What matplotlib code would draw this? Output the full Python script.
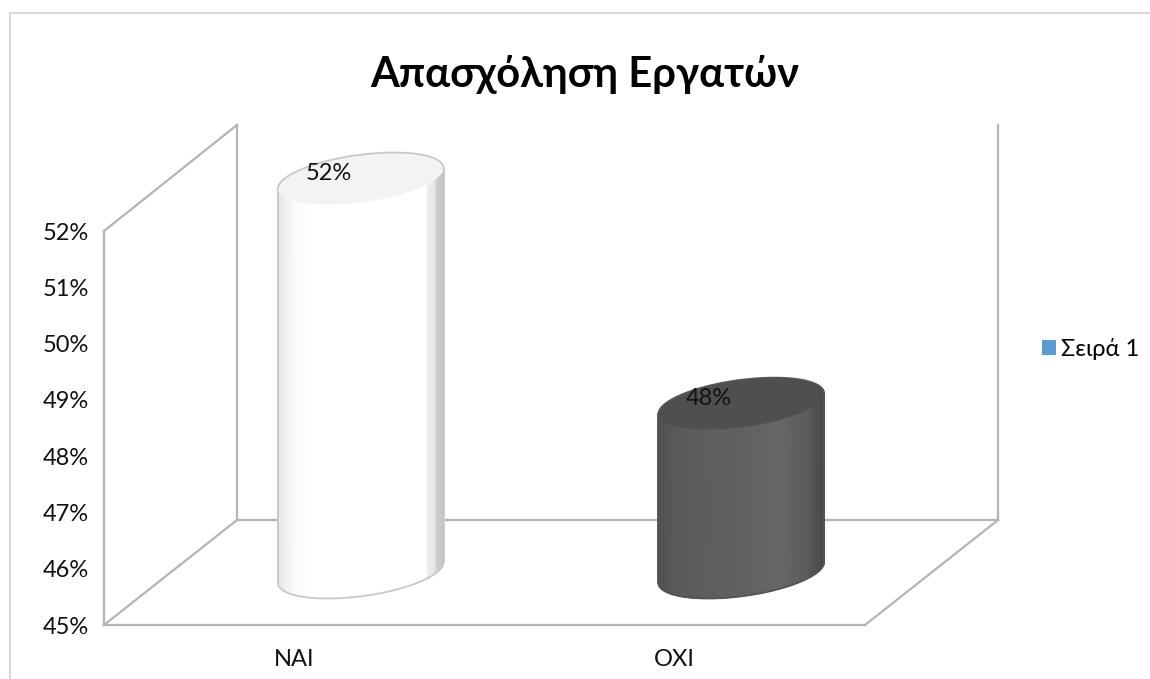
import numpy as np
import matplotlib
matplotlib.use("Agg")
import matplotlib.pyplot as plt
from matplotlib.colors import LinearSegmentedColormap
from matplotlib.patches import Patch, Polygon, Rectangle

categories = ["ΝΑΙ", "ΟΧΙ"]
values = [52, 48]
value_ticks = [45, 46, 47, 48, 49, 50, 51, 52]
title = "Απασχόληση Εργατών"
series_name = "Σειρά 1"

plt.rcParams["font.family"] = ["Lato", "Noto Sans", "DejaVu Sans"]

W, H = 1150, 679
fig = plt.figure(figsize=(W / 100, H / 100), dpi=100)
fig.add_artist(Rectangle((10 / W, -0.01), 1.2, (H - 13) / H + 0.01, transform=fig.transFigure,
                         fill=False, ec="#d9d9d9", lw=1.5))

# axes = front plane of the 3d box
left, right, top, bottom = 104, 865, 231, 625
ax = fig.add_axes([left / W, 1 - bottom / H, (right - left) / W, (bottom - top) / H])
ax.patch.set_alpha(0)
for s in ax.spines.values():
    s.set_visible(False)
xlim = (-0.5, 1.5)
ylim = (45, 52)

# depth of the box in data units
px_x = (xlim[1] - xlim[0]) / (right - left)
px_y = (ylim[1] - ylim[0]) / (bottom - top)
dx = 133 * px_x
dy = 105 * px_y
top_back = ylim[1] + dy + 1 * px_y

wall = "#b4b4b4"
def line(xs, ys):
    ax.plot(xs, ys, color=wall, lw=1.6, clip_on=False, zorder=1, solid_capstyle="projecting")

x0, x1 = xlim
y0, y1 = ylim
line([x0, x0], [y0, y1])
line([x0, x0 + dx], [y1, top_back])
line([x0 + dx, x0 + dx], [y0 + dy, top_back])
line([x0, x0 + dx], [y0, y0 + dy])
line([x0, x1], [y0, y0])
line([x1, x1 + dx], [y0, y0 + dy])
line([x0 + dx, x1 + dx], [y0 + dy, y0 + dy])
line([x1 + dx, x1 + dx], [y0 + dy, top_back])


def ellipse(cx, cy, t):
    # circle lying on the floor of the box, seen in projection
    return (cx + 76 * px_x * np.cos(t) + 33 * px_x * np.sin(t),
            cy + 26 * px_y * np.sin(t))


def cylinder(cat, val, stops, lid, edge):
    cx = cat + dx / 2
    base = y0 + dy / 2
    roof = val + dy / 2
    # t where the ellipse has its left extreme
    t_l = np.pi + np.arctan2(33, 76)
    # lower half of the ellipse, left extreme to right extreme
    tt = np.linspace(t_l, t_l + np.pi, 160)
    lx, ly = ellipse(cx, 0, tt)
    X = np.vstack([lx, lx])
    Y = np.vstack([ly + base, ly + roof])
    C = (X - lx.min()) / (lx.max() - lx.min())
    cmap = LinearSegmentedColormap.from_list("c", stops, N=512)
    ax.pcolormesh(X, Y, C, cmap=cmap, shading="gouraud", vmin=0, vmax=1, zorder=2, clip_on=False)
    ax.plot(lx, ly + base, color=edge, lw=1.3, zorder=3, clip_on=False)
    ax.plot([lx[0], lx[0]], [ly[0] + base, ly[0] + roof], color=edge, lw=1.3, zorder=3, clip_on=False)
    ax.plot([lx[-1], lx[-1]], [ly[-1] + base, ly[-1] + roof], color=edge, lw=1.3, zorder=3, clip_on=False)
    # lid, only its far half has an outline
    t = np.linspace(0, 2 * np.pi, 241)
    ex, ey = ellipse(cx, 0, t)
    ax.add_patch(Polygon(np.c_[ex, ey + roof], closed=True, fc=lid, ec="none", zorder=4, clip_on=False))
    ux, uy = ellipse(cx, 0, tt + np.pi)
    ax.plot(ux, uy + roof, color=edge, lw=1.3, zorder=4, clip_on=False)


white_stops = [(0, "#e6e6e6"), (0.1, "#fbfbfb"), (0.2, "#ffffff"), (0.9, "#ffffff"),
               (0.905, "#ececec"), (0.95, "#e8e8e8"), (0.96, "#cfcfcf"), (1, "#c4c4c4")]
dark_stops = [(0, "#505050"), (0.1, "#5a5a5a"), (0.75, "#666666"), (0.9, "#5c5c5c"), (1, "#474747")]
cylinder(0, values[0], white_stops, "#f3f3f3", "#c8c8c8")
cylinder(1, values[1], dark_stops, "#4f4f4f", "#555555")

for i, v in enumerate(values):
    ax.annotate(f"{v}%", (i + dx / 2, v + dy / 2), xytext=(-32, 5), textcoords="offset pixels",
                ha="center", va="center", fontsize=17, color="#111111", zorder=5,
                annotation_clip=False)

ax.set_xlim(xlim)
ax.set_ylim(ylim)
ax.set_xticks(range(len(categories)), categories)
ax.set_yticks(value_ticks, [f"{v}%" for v in value_ticks])
ax.tick_params(axis="both", length=0, labelsize=17, labelcolor="#111111")
ax.tick_params(axis="y", pad=11)
ax.tick_params(axis="x", pad=17)

fig.text(585 / W, 1 - 74 / H, title, ha="center", va="center", fontsize=30, fontweight="bold", color="black")

fig.legend(handles=[Patch(fc="#5b9bd5", ec="none", label=series_name)], loc="center left",
           bbox_to_anchor=(1021 / W, 1 - 349 / H), frameon=False, fontsize=17,
           handlelength=0.58, handleheight=0.58, handletextpad=0.2)

fig.savefig("out.png", dpi=100)
